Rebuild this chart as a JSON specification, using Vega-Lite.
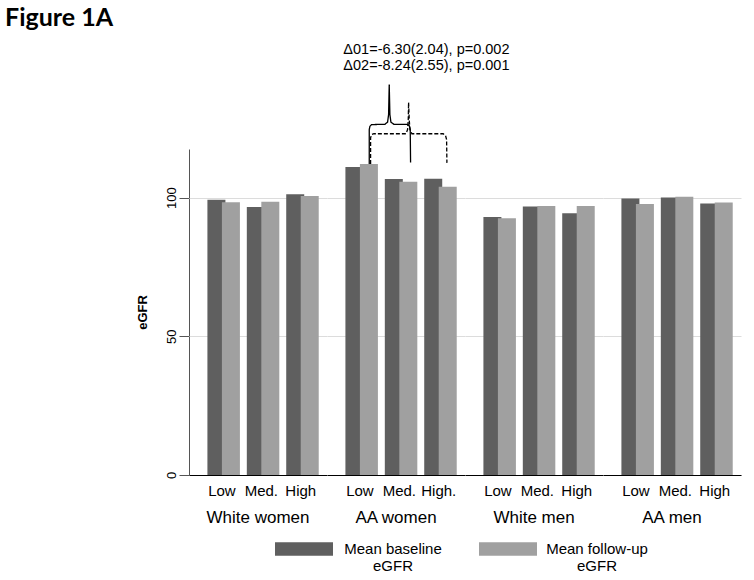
{
  "$schema": "https://vega.github.io/schema/vega-lite/v6.json",
  "padding": {"left": 5, "top": 5, "right": 5, "bottom": 5},
  "background": "white",
  "bounds": "flush",
  "title": {"text": "Figure 1A", "anchor": "start", "frame": "bounds", "font": "Lato", "fontSize": 25, "fontWeight": "bold", "color": "#000", "dx": -131, "offset": 11},
  "data": {"values": [
    {"kind": "bar", "group": "White women", "level": "Low", "series": "Mean baseline eGFR", "egfr": 99.2},
    {"kind": "bar", "group": "White women", "level": "Low", "series": "Mean follow-up eGFR", "egfr": 98.3},
    {"kind": "bar", "group": "White women", "level": "Med.", "series": "Mean baseline eGFR", "egfr": 96.6},
    {"kind": "bar", "group": "White women", "level": "Med.", "series": "Mean follow-up eGFR", "egfr": 98.5},
    {"kind": "bar", "group": "White women", "level": "High", "series": "Mean baseline eGFR", "egfr": 101.2},
    {"kind": "bar", "group": "White women", "level": "High", "series": "Mean follow-up eGFR", "egfr": 100.6},
    {"kind": "bar", "group": "AA women", "level": "Low", "series": "Mean baseline eGFR", "egfr": 111.0},
    {"kind": "bar", "group": "AA women", "level": "Low", "series": "Mean follow-up eGFR", "egfr": 112.1},
    {"kind": "bar", "group": "AA women", "level": "Med.", "series": "Mean baseline eGFR", "egfr": 106.7},
    {"kind": "bar", "group": "AA women", "level": "Med.", "series": "Mean follow-up eGFR", "egfr": 105.7},
    {"kind": "bar", "group": "AA women", "level": "High.", "series": "Mean baseline eGFR", "egfr": 106.8},
    {"kind": "bar", "group": "AA women", "level": "High.", "series": "Mean follow-up eGFR", "egfr": 103.9},
    {"kind": "bar", "group": "White men", "level": "Low", "series": "Mean baseline eGFR", "egfr": 93.0},
    {"kind": "bar", "group": "White men", "level": "Low", "series": "Mean follow-up eGFR", "egfr": 92.5},
    {"kind": "bar", "group": "White men", "level": "Med.", "series": "Mean baseline eGFR", "egfr": 96.8},
    {"kind": "bar", "group": "White men", "level": "Med.", "series": "Mean follow-up eGFR", "egfr": 97.0},
    {"kind": "bar", "group": "White men", "level": "High", "series": "Mean baseline eGFR", "egfr": 94.3},
    {"kind": "bar", "group": "White men", "level": "High", "series": "Mean follow-up eGFR", "egfr": 97.0},
    {"kind": "bar", "group": "AA men", "level": "Low", "series": "Mean baseline eGFR", "egfr": 99.7},
    {"kind": "bar", "group": "AA men", "level": "Low", "series": "Mean follow-up eGFR", "egfr": 97.7},
    {"kind": "bar", "group": "AA men", "level": "Med.", "series": "Mean baseline eGFR", "egfr": 100.0},
    {"kind": "bar", "group": "AA men", "level": "Med.", "series": "Mean follow-up eGFR", "egfr": 100.3},
    {"kind": "bar", "group": "AA men", "level": "High", "series": "Mean baseline eGFR", "egfr": 97.9},
    {"kind": "bar", "group": "AA men", "level": "High", "series": "Mean follow-up eGFR", "egfr": 98.2},
    {"kind": "brace", "group": "AA women", "level": "Low", "brace": "d01", "i": 1, "bo": 0.822, "egfr": 112.1},
    {"kind": "brace", "group": "AA women", "level": "Low", "brace": "d01", "i": 2, "bo": 0.822, "egfr": 124.5},
    {"kind": "brace", "group": "AA women", "level": "Low", "brace": "d01", "i": 3, "bo": 0.845, "egfr": 125.7},
    {"kind": "brace", "group": "AA women", "level": "Low", "brace": "d01", "i": 4, "bo": 0.902, "egfr": 126.3},
    {"kind": "brace", "group": "AA women", "level": "Low", "brace": "d01", "i": 5, "bo": 1.363, "egfr": 126.4},
    {"kind": "brace", "group": "AA women", "level": "Low", "brace": "d01", "i": 6, "bo": 1.454, "egfr": 127.2},
    {"kind": "brace", "group": "AA women", "level": "Low", "brace": "d01", "i": 7, "bo": 1.489, "egfr": 129.9},
    {"kind": "brace", "group": "AA women", "level": "Low", "brace": "d01", "i": 8, "bo": 1.511, "egfr": 140.7},
    {"kind": "brace", "group": "AA women", "level": "Low", "brace": "d01", "i": 9, "bo": 1.534, "egfr": 129.9},
    {"kind": "brace", "group": "AA women", "level": "Low", "brace": "d01", "i": 10, "bo": 1.569, "egfr": 127.2},
    {"kind": "brace", "group": "AA women", "level": "Low", "brace": "d01", "i": 11, "bo": 1.672, "egfr": 126.4},
    {"kind": "brace", "group": "AA women", "level": "Low", "brace": "d01", "i": 12, "bo": 2.132, "egfr": 126.4},
    {"kind": "brace", "group": "AA women", "level": "Low", "brace": "d01", "i": 13, "bo": 2.201, "egfr": 125.9},
    {"kind": "brace", "group": "AA women", "level": "Low", "brace": "d01", "i": 14, "bo": 2.235, "egfr": 124.7},
    {"kind": "brace", "group": "AA women", "level": "Low", "brace": "d01", "i": 15, "bo": 2.247, "egfr": 112.6},
    {"kind": "brace", "group": "AA women", "level": "Low", "brace": "d02", "i": 1, "bo": 0.868, "egfr": 112.1},
    {"kind": "brace", "group": "AA women", "level": "Low", "brace": "d02", "i": 2, "bo": 0.868, "egfr": 121.5},
    {"kind": "brace", "group": "AA women", "level": "Low", "brace": "d02", "i": 3, "bo": 0.902, "egfr": 122.7},
    {"kind": "brace", "group": "AA women", "level": "Low", "brace": "d02", "i": 4, "bo": 0.982, "egfr": 123.0},
    {"kind": "brace", "group": "AA women", "level": "Low", "brace": "d02", "i": 5, "bo": 2.087, "egfr": 123.0},
    {"kind": "brace", "group": "AA women", "level": "Low", "brace": "d02", "i": 6, "bo": 2.144, "egfr": 124.5},
    {"kind": "brace", "group": "AA women", "level": "Low", "brace": "d02", "i": 7, "bo": 2.167, "egfr": 128.1},
    {"kind": "brace", "group": "AA women", "level": "Low", "brace": "d02", "i": 8, "bo": 2.178, "egfr": 134.3},
    {"kind": "brace", "group": "AA women", "level": "Low", "brace": "d02", "i": 9, "bo": 2.201, "egfr": 128.1},
    {"kind": "brace", "group": "AA women", "level": "Low", "brace": "d02", "i": 10, "bo": 2.224, "egfr": 124.5},
    {"kind": "brace", "group": "AA women", "level": "Low", "brace": "d02", "i": 11, "bo": 2.293, "egfr": 123.0},
    {"kind": "brace", "group": "AA women", "level": "Low", "brace": "d02", "i": 12, "bo": 3.373, "egfr": 123.0},
    {"kind": "brace", "group": "AA women", "level": "Low", "brace": "d02", "i": 13, "bo": 3.454, "egfr": 122.3},
    {"kind": "brace", "group": "AA women", "level": "Low", "brace": "d02", "i": 14, "bo": 3.489, "egfr": 120.9},
    {"kind": "brace", "group": "AA women", "level": "Low", "brace": "d02", "i": 15, "bo": 3.5, "egfr": 112.5},
    {"kind": "label", "group": "AA women", "level": "Low", "bo": 2.793, "egfr": 153.3, "txt": "Δ01=-6.30(2.04), p=0.002"},
    {"kind": "label", "group": "AA women", "level": "Low", "bo": 2.793, "egfr": 147.5, "txt": "Δ02=-8.24(2.55), p=0.001"}
  ]},
  "facet": {
    "column": {
      "field": "group", "type": "nominal",
      "sort": ["White women", "AA women", "White men", "AA men"],
      "header": {"title": null, "labelOrient": "bottom", "labelFont": "Liberation Sans", "labelFontSize": 17, "labelColor": "#000", "labelPadding": 35}
    }
  },
  "spacing": 0,
  "resolve": {"scale": {"x": "independent"}, "axis": {"x": "independent"}},
  "spec": {
    "width": 138,
    "height": 326,
    "encoding": {
      "x": {"field": "level", "type": "nominal", "sort": null,
        "scale": {"paddingInner": 0.264, "paddingOuter": 0.383, "align": 0.61},
        "axis": {"title": null, "labelAngle": 0, "ticks": false, "domainColor": "#000", "domainWidth": 1, "labelFont": "Liberation Sans", "labelFontSize": 15, "labelColor": "#000", "labelPadding": 8, "grid": false}},
      "y": {"field": "egfr", "type": "quantitative",
        "scale": {"domain": [0, 117.5], "nice": false},
        "axis": {"title": "eGFR", "values": [0, 50, 100], "labelAngle": -90, "labelAlign": "center", "labelBaseline": "bottom", "labelPadding": 1, "labelFont": "Liberation Sans", "labelFontSize": 13, "labelColor": "#000", "tickSize": 10, "tickColor": "#555", "domainColor": "#555", "gridColor": "#dcdcdc", "titleFont": "Liberation Sans", "titleFontSize": 13, "titleFontWeight": "bold", "titleColor": "#000", "titlePadding": 16}}
    },
    "layer": [
      {
        "transform": [{"filter": "datum.kind == 'bar' && datum.series == 'Mean baseline eGFR'"}],
        "mark": {"type": "bar", "width": {"band": 0.5}, "xOffset": -7.25},
        "encoding": {
          "color": {"field": "series", "type": "nominal",
            "scale": {"domain": ["Mean baseline eGFR", "Mean follow-up eGFR"], "range": ["#5f5f5f", "#a0a0a0"]},
            "legend": {"orient": "none", "legendX": 86, "legendY": 371, "direction": "horizontal", "title": null,
              "symbolType": "M-1,-0.23H1V0.23H-1Z", "symbolSize": 3364, "symbolStrokeWidth": 0,
              "labelFont": "Liberation Sans", "labelFontSize": 15, "labelColor": "#000", "labelAlign": "center", "labelBaseline": "middle",
              "labelOffset": 60, "labelLimit": 0, "columnPadding": 37,
              "labelExpr": "datum.label == 'Mean baseline eGFR' ? ['Mean baseline', 'eGFR'] : ['Mean follow-up', 'eGFR']"}}
        }
      },
      {
        "transform": [{"filter": "datum.kind == 'bar' && datum.series == 'Mean follow-up eGFR'"}],
        "mark": {"type": "bar", "width": {"band": 0.5}, "xOffset": 7.25},
        "encoding": {
          "color": {"field": "series", "type": "nominal"}
        }
      },
      {
        "transform": [{"filter": "datum.kind == 'brace'"}],
        "mark": {"type": "line", "color": "#000", "strokeWidth": 1.3},
        "encoding": {
          "xOffset": {"field": "bo", "type": "quantitative", "scale": {"domain": [0, 1], "range": [0, 29], "nice": false, "zero": false}},
          "detail": {"field": "brace", "type": "nominal"},
          "order": {"field": "i", "type": "quantitative"},
          "strokeDash": {"field": "brace", "type": "nominal", "scale": {"domain": ["d01", "d02"], "range": [[1, 0], [4, 2]]}, "legend": null}
        }
      },
      {
        "transform": [{"filter": "datum.kind == 'label'"}],
        "mark": {"type": "text", "font": "Liberation Sans", "fontSize": 14.5, "color": "#000"},
        "encoding": {
          "xOffset": {"field": "bo", "type": "quantitative", "scale": {"domain": [0, 1], "range": [0, 29], "nice": false, "zero": false}},
          "text": {"field": "txt", "type": "nominal"}
        }
      }
    ]
  },
  "config": {"view": {"stroke": null}}
}
